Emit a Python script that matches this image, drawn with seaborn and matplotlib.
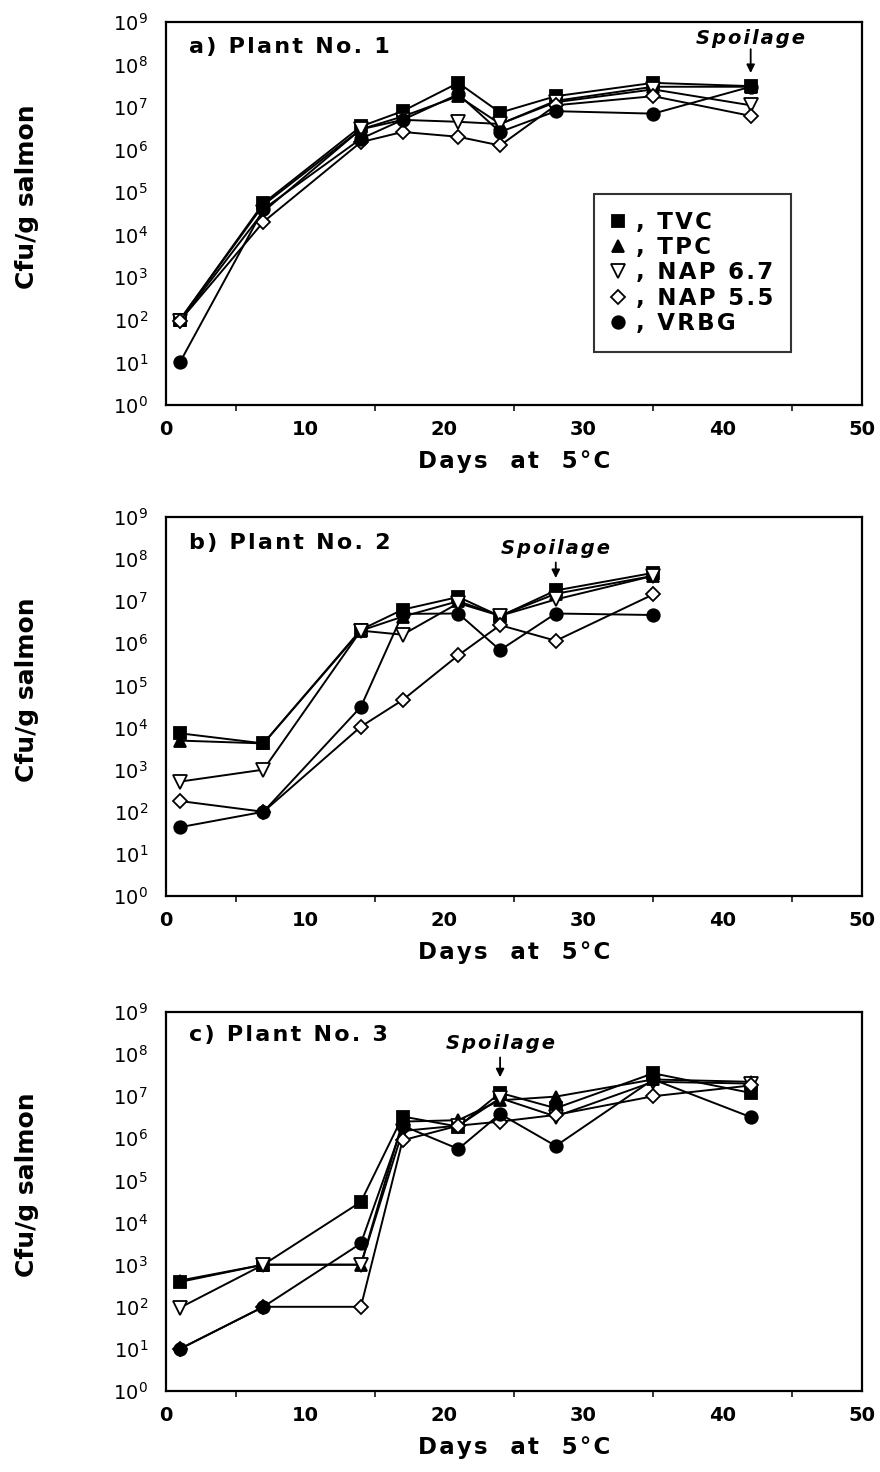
import matplotlib
matplotlib.use("Agg")
import matplotlib.pyplot as plt
import seaborn as sns
import numpy as np
import pandas as pd
from matplotlib.ticker import LogLocator, NullLocator, MultipleLocator, FixedLocator

sns.set_theme(style="white")
plt.rcParams['font.family'] = ['DejaVu Sans']
plt.rcParams['text.color'] = 'black'

series_names = ["TVC", "TPC", "NAP 6.7", "NAP 5.5", "VRBG"]
legend_labels = [", TVC", ", TPC", ", NAP 6.7", ", NAP 5.5", ", VRBG"]

days_a = [1, 7, 14, 17, 21, 24, 28, 35, 42]
a_TVC = [100, 5.5e4, 3.5e6, 8e6, 3.7e7, 7.4e6, 1.8e7, 3.7e7, 3.1e7]
a_TPC = [100, 5e4, 3e6, 6e6, 1.8e7, 4e6, 1.4e7, 3e7, 3e7]
a_NAP67 = [95, 3.5e4, 3e6, 5e6, 4.5e6, 4e6, 1.3e7, 2.6e7, 1.1e7]
a_NAP55 = [95, 2e4, 1.5e6, 2.6e6, 2e6, 1.25e6, 1.1e7, 1.8e7, 6.2e6]
a_VRBG = [10, 4e4, 1.8e6, 5e6, 2e7, 2.6e6, 8e6, 7e6, 3e7]

days_b = [1, 7, 14, 17, 21, 24, 28, 35]
b_TVC = [7.3e3, 4.2e3, 2.1e6, 6.3e6, 1.26e7, 4.4e6, 1.8e7, 4.7e7]
b_TPC = [4.9e3, 4.2e3, 2e6, 4.3e6, 1e7, 4.5e6, 1.5e7, 4e7]
b_NAP67 = [520, 1e3, 2e6, 1.6e6, 9e6, 4.5e6, 1.1e7, 4e7]
b_NAP55 = [180, 100, 1.05e4, 4.5e4, 5.2e5, 2.7e6, 1.15e6, 1.45e7]
b_VRBG = [43, 100, 3.1e4, 5e6, 5.1e6, 6.9e5, 5.1e6, 4.7e6]

days_c = [1, 7, 14, 17, 21, 24, 28, 35, 42]
c_TVC = [390, 1e3, 3.1e4, 3.3e6, 1.9e6, 1.2e7, 5.2e6, 3.5e7, 1.2e7]
c_TPC = [420, 1e3, 1e3, 2.5e6, 2.7e6, 8e6, 9.8e6, 2.5e7, 2.2e7]
c_NAP67 = [95, 1e3, 1e3, 1.5e6, 2e6, 9e6, 3.3e6, 2.2e7, 2e7]
c_NAP55 = [10, 100, 100, 9e5, 2e6, 2.5e6, 3.6e6, 1e7, 1.8e7]
c_VRBG = [10, 100, 3.2e3, 2e6, 5.6e5, 3.8e6, 6.6e5, 2.5e7, 3.2e6]

panel_titles = ["a) Plant No. 1", "b) Plant No. 2", "c) Plant No. 3"]
spoilage_days = [42, 28, 24]
xtick_labels = ["0", "10", "20", "30", "40", "50"]

panels = [
    (days_a, [a_TVC, a_TPC, a_NAP67, a_NAP55, a_VRBG]),
    (days_b, [b_TVC, b_TPC, b_NAP67, b_NAP55, b_VRBG]),
    (days_c, [c_TVC, c_TPC, c_NAP67, c_NAP55, c_VRBG]),
]


def spaced(s):
    """Slightly wider letter spacing using hair spaces."""
    return "\u200a".join(s)


styles = {
    "TVC": dict(marker="s", mfc="black", ms=9),
    "TPC": dict(marker="^", mfc="black", ms=9),
    "NAP 6.7": dict(marker="v", mfc="white", ms=10),
    "NAP 5.5": dict(marker="D", mfc="white", ms=7.5),
    "VRBG": dict(marker="o", mfc="black", ms=9),
}

fig = plt.figure(figsize=(8.8, 14.72), dpi=100)
axes_pos = [
    [0.1886, 0.7249, 0.791, 0.2602],
    [0.1886, 0.3913, 0.791, 0.2575],
    [0.1886, 0.0550, 0.791, 0.2575],
]
title_y = [0.935, 0.931, 0.939]
spoil = [  # (text log-y, arrow start log-y, arrow end log-y)
    (8.62, 8.36, 7.80),
    (8.26, 7.92, 7.55),
    (8.26, 7.92, 7.45),
]

for i, (pos, (days, vals)) in enumerate(zip(axes_pos, panels)):
    ax = fig.add_axes(pos)
    for name, lab, v in zip(series_names, legend_labels, vals):
        st = styles[name]
        sns.lineplot(x=days, y=v, ax=ax, color="black", linewidth=1.4,
                     marker=st["marker"], markersize=st["ms"],
                     markerfacecolor=st["mfc"], markeredgecolor="black",
                     markeredgewidth=1.3,
                     label=spaced(lab) if i == 0 else None,
                     legend=False)
    ax.set_yscale("log")
    ax.set_ylim(1, 1e9)
    ax.set_xlim(0, 50)
    ax.yaxis.set_major_locator(LogLocator(base=10, numticks=20))
    ax.yaxis.set_minor_locator(NullLocator())
    ax.xaxis.set_major_locator(FixedLocator([0, 10, 20, 30, 40, 50]))
    ax.set_xticklabels(xtick_labels)
    ax.xaxis.set_minor_locator(MultipleLocator(5))
    ax.tick_params(axis="both", which="major", direction="out", length=7,
                   width=1.3, color="black", labelcolor="black")
    ax.tick_params(axis="x", which="minor", direction="out", length=4,
                   width=1.1, color="black", bottom=True)
    ax.tick_params(axis="y", labelsize=14, pad=6)
    ax.tick_params(axis="x", labelsize=14, pad=4)
    for lbl in ax.get_xticklabels():
        lbl.set_fontweight("bold")
    for sp in ax.spines.values():
        sp.set_color("black")
        sp.set_linewidth(1.6)
    ax.set_facecolor("white")

    ax.set_xlabel(spaced("Days  at  5°C"), fontsize=16.5, fontweight="bold",
                  labelpad=8, color="black")
    ax.set_ylabel("Cfu/g salmon", fontsize=18, fontweight="bold",
                  color="black")
    ax.yaxis.set_label_coords(-0.183, 0.545)

    ax.text(0.033, title_y[i], spaced(panel_titles[i]), transform=ax.transAxes,
            fontsize=16, fontweight="bold", va="center", ha="left",
            color="black")

    sd = spoilage_days[i]
    ty, ay0, ay1 = spoil[i]
    ax.text(sd, 10 ** ty, spaced("Spoilage"), fontsize=14, fontweight="bold",
            fontstyle="italic", ha="center", va="center", color="black")
    ax.annotate("", xy=(sd, 10 ** ay1), xytext=(sd, 10 ** ay0),
                arrowprops=dict(arrowstyle="-|>", color="black", lw=1.3,
                                mutation_scale=12, shrinkA=0, shrinkB=0))

    if i == 0:
        leg = ax.legend(loc="lower left", bbox_to_anchor=(0.615, 0.138),
                        borderaxespad=0, frameon=True, fancybox=False,
                        edgecolor="black", handlelength=0.6,
                        handletextpad=0.5, labelspacing=0.1, borderpad=0.75,
                        labelcolor="black",
                        prop=dict(weight="bold", size=16.5))
        leg.get_frame().set_linewidth(1.5)
        for line in leg.get_lines():
            line.set_linestyle("none")

fig.savefig("out.png", dpi=100, facecolor="white")
